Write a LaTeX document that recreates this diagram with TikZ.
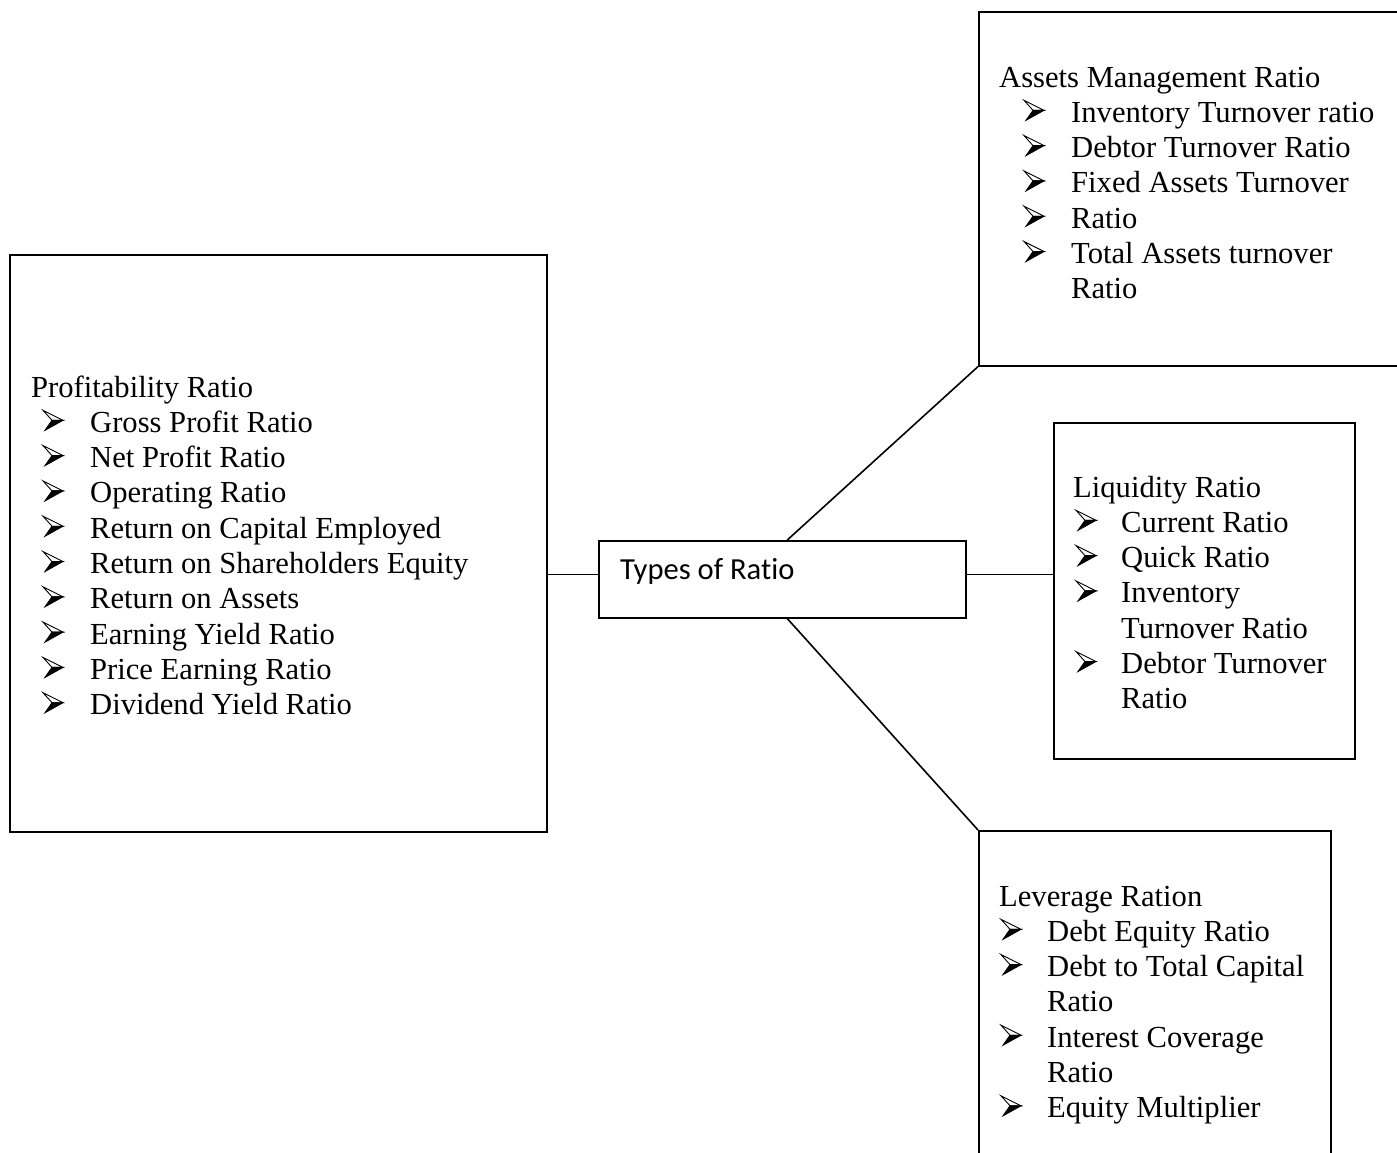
\documentclass[tikz,border=0pt]{standalone}
\usepackage{fontspec}
\setmainfont{Liberation Serif}
\newfontfamily\boxsans[Ligatures=NoCommon]{Carlito}
\begin{document}
\begin{tikzpicture}[x=1pt,y=-1pt,
  frame/.style={draw,line width=1.6pt,rectangle,inner sep=0pt,anchor=north west},
  link/.style={line width=1.6pt},
  head/.style={anchor=base west,inner sep=0pt,font=\fontsize{30.6pt}{35.3pt}\selectfont},
  item/.style={anchor=base west,inner sep=0pt,font=\fontsize{30.6pt}{35.3pt}\selectfont},
  arrowbullet/.pic={
    % three-dimensional arrowhead: light upper half, dark lower half
    \draw[line width=0.9pt,line join=miter] (0,-22) -- (20,-12) -- (9,-12) -- cycle;
    \filldraw[line width=0.9pt,line join=miter] (2,-2) -- (20,-12) -- (9,-12) -- cycle;
  }]
\useasboundingbox (0,0) rectangle (1397,1152);
\clip (0,0) rectangle (1397,1152);

% boxes
\node[frame,minimum width=537pt,minimum height=577pt] (prof) at (9,254) {};
\node[frame,minimum width=367pt,minimum height=77pt] (types) at (598,540) {};
\node[frame,minimum width=301pt,minimum height=336pt] (liq) at (1053,422) {};
\node[frame,minimum width=440pt,minimum height=354pt] (assets) at (978,11) {};
\node[frame,minimum width=352pt,minimum height=340pt] (lev) at (978,830) {};

% connectors
\coordinate (tw) at ([yshift=5pt]types.west);
\coordinate (te) at ([yshift=5pt]types.east);
\draw[link] (tw) -- (tw -| prof.east);
\draw[link] (te) -- (te -| liq.west);
\draw[link] ([xshift=5pt]types.north) -- (assets.south west);
\draw[link] ([xshift=5pt]types.south) -- (lev.north west);

% centre label
\node[anchor=base west,inner sep=0pt,font=\boxsans\fontsize{30.6pt}{35.3pt}\selectfont] (tlabel) at (620,579) {Types of Ratio};

% profitability ratios
\node[head] (p0) at (31,397) {Profitability Ratio};
\foreach \t [count=\i] in {Gross Profit Ratio,Net Profit Ratio,Operating Ratio,Return on Capital Employed,Return on Shareholders Equity,Return on Assets,Earning Yield Ratio,Price Earning Ratio,Dividend Yield Ratio}{
  \pic at (43,{397+35.3*\i}) {arrowbullet};
  \node[item] (pt\i) at (90,{397+35.3*\i}) {\t};
}

% assets management ratios
\node[head] (a0) at (999,87) {Assets Management Ratio};
\foreach \t [count=\i] in {Inventory Turnover ratio,Debtor Turnover Ratio,Fixed Assets Turnover,Ratio,Total Assets turnover}{
  \pic at (1024,{87+35.3*\i}) {arrowbullet};
  \node[item] (at\i) at (1071,{87+35.3*\i}) {\t};
}
\node[item] (at6) at (1071,{87+35.3*6}) {Ratio};

% liquidity ratios
\node[head] (l0) at (1073,497) {Liquidity Ratio};
\pic at (1076,{497+35.3}) {arrowbullet};
\node[item] (lt1) at (1121,{497+35.3}) {Current Ratio};
\pic at (1076,{497+35.3*2}) {arrowbullet};
\node[item] (lt2) at (1121,{497+35.3*2}) {Quick Ratio};
\pic at (1076,{497+35.3*3}) {arrowbullet};
\node[item] (lt3) at (1121,{497+35.3*3}) {Inventory};
\node[item] (lt4) at (1121,{497+35.3*4}) {Turnover Ratio};
\pic at (1076,{497+35.3*5}) {arrowbullet};
\node[item] (lt5) at (1121,{497+35.3*5}) {Debtor Turnover};
\node[item] (lt6) at (1121,{497+35.3*6}) {Ratio};

% leverage ratios
\node[head] (v0) at (999,906) {Leverage Ration};
\pic at (1001,{906+35.3}) {arrowbullet};
\node[item] (vt1) at (1047,{906+35.3}) {Debt Equity Ratio};
\pic at (1001,{906+35.3*2}) {arrowbullet};
\node[item] (vt2) at (1047,{906+35.3*2}) {Debt to Total Capital};
\node[item] (vt3) at (1047,{906+35.3*3}) {Ratio};
\pic at (1001,{906+35.3*4}) {arrowbullet};
\node[item] (vt4) at (1047,{906+35.3*4}) {Interest Coverage};
\node[item] (vt5) at (1047,{906+35.3*5}) {Ratio};
\pic at (1001,{906+35.3*6}) {arrowbullet};
\node[item] (vt6) at (1047,{906+35.3*6}) {Equity Multiplier};
\end{tikzpicture}
\end{document}
